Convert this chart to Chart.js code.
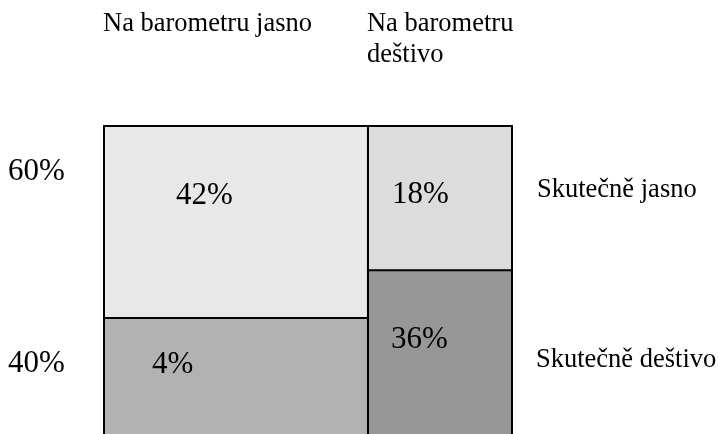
<!DOCTYPE html>
<html>
<head>
<meta charset="utf-8">
<script src="https://cdn.jsdelivr.net/npm/chart.js@4/dist/chart.umd.min.js"></script>
<style>
  html, body { margin: 0; padding: 0; background: #ffffff; overflow: hidden; }
  canvas { display: block; }
</style>
</head>
<body>
<canvas id="c" width="718" height="434"></canvas>
<script>
// ---- data ----
const columnLabels = [['Na barometru jasno'], ['Na barometru', 'deštivo']];
const rowLabels = ['Skutečně jasno', 'Skutečně deštivo'];
const rowShareLabels = ['60%', '40%'];
const columnWidths = [0.647, 0.353];          // share of the total width per column
const rainyShare = [0.377, 0.532];            // height of the "Skutečně deštivo" part per column
const cellLabelsClear = ['42%', '18%'];       // top cells
const cellLabelsRainy = ['4%', '36%'];        // bottom cells
const clearColors = ['#e8e8e8', '#dcdcdc'];
const rainyColors = ['#b2b2b2', '#979797'];

// ---- build the cells ----
const datasets = [];
const cells = [];
let x0 = 0;
columnWidths.forEach((w, c) => {
  const x1 = x0 + w;
  const parts = [
    { y0: rainyShare[c], y1: 1, color: clearColors[c], label: cellLabelsClear[c], row: 0 },
    { y0: 0, y1: rainyShare[c], color: rainyColors[c], label: cellLabelsRainy[c], row: 1 }
  ];
  parts.forEach(p => {
    datasets.push({
      label: columnLabels[c].join(' ') + ' / ' + rowLabels[p.row],
      data: [{x: x0, y: p.y0}, {x: x0, y: p.y1}, {x: x1, y: p.y1}, {x: x1, y: p.y0}],
      showLine: true,
      fill: { value: p.y0 },
      backgroundColor: p.color,
      borderColor: '#000000',
      borderWidth: 2,
      pointRadius: 0,
      pointHoverRadius: 0,
      tension: 0,
      clip: false
    });
    cells.push({ c, row: p.row, x0, x1, y0: p.y0, y1: p.y1, label: p.label });
  });
  x0 = x1;
});

const SERIF = '"Liberation Serif", "Times New Roman", serif';

const textPlugin = {
  id: 'mosaicText',
  afterDraw(chart) {
    const ctx = chart.ctx;
    const xs = chart.scales.x, ys = chart.scales.y;
    ctx.save();
    ctx.fillStyle = '#000000';
    ctx.textBaseline = 'alphabetic';
    ctx.textAlign = 'left';

    // column headers, aligned with the left edge of each column
    ctx.font = '26.5px ' + SERIF;
    let cx = 0;
    columnWidths.forEach((w, c) => {
      const px = xs.getPixelForValue(cx) - 1;
      columnLabels[c].forEach((line, i) => ctx.fillText(line, px, 31 + i * 31));
      cx += w;
    });

    // row labels on the right
    ctx.fillText(rowLabels[0], 537, 197);
    ctx.fillText(rowLabels[1], 536, 367);

    // share labels on the left
    ctx.font = '31px ' + SERIF;
    ctx.fillText(rowShareLabels[0], 8, 180);
    ctx.fillText(rowShareLabels[1], 8, 372);

    // cell labels
    const offsets = {
      '0-0': [72, 204], '0-1': [48, 373],
      '1-0': [24, 203], '1-1': [23, 348]
    };
    cells.forEach(cell => {
      const o = offsets[cell.c + '-' + cell.row];
      ctx.fillText(cell.label, xs.getPixelForValue(cell.x0) + o[0], o[1]);
    });
    ctx.restore();
  }
};

new Chart(document.getElementById('c'), {
  type: 'scatter',
  data: { datasets },
  options: {
    responsive: false,
    animation: false,
    devicePixelRatio: 1,
    layout: { padding: { left: 104, right: 206, top: 126, bottom: 0 } },
    scales: {
      x: { type: 'linear', min: 0, max: 1, display: false },
      y: { type: 'linear', min: 0, max: 1, display: false }
    },
    plugins: {
      legend: { display: false },
      tooltip: { enabled: false },
      filler: { drawTime: 'beforeDatasetsDraw' }
    },
    events: []
  },
  plugins: [textPlugin]
});
</script>
</body>
</html>
